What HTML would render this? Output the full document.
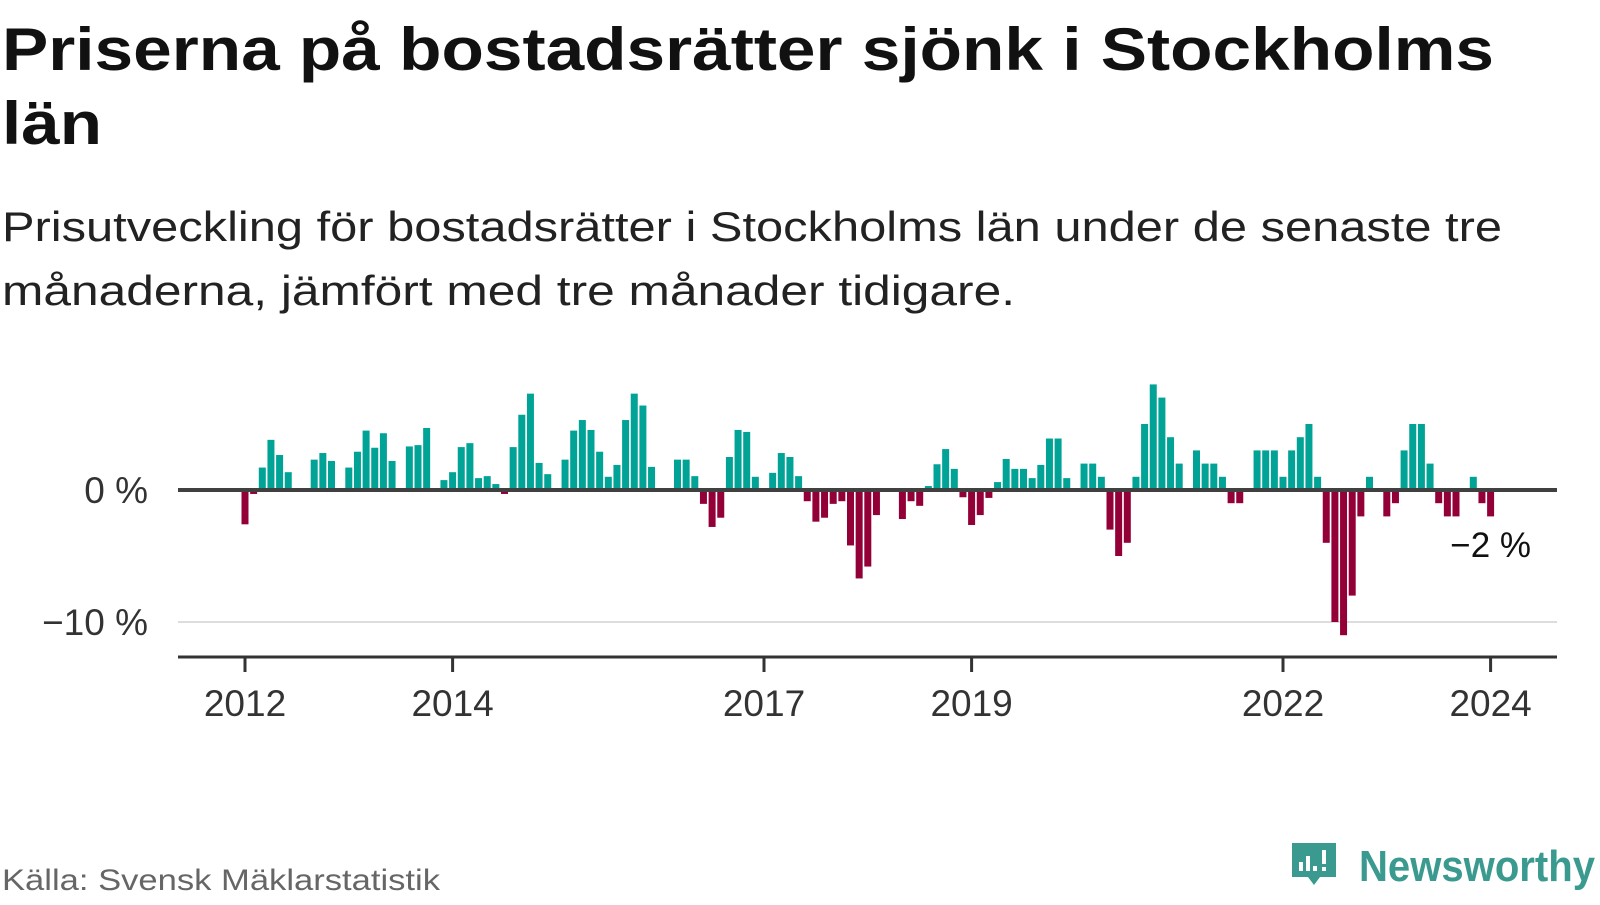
<!DOCTYPE html>
<html><head><meta charset="utf-8"><style>
html,body{margin:0;padding:0;background:#fff;}
body{width:1600px;height:900px;overflow:hidden;font-family:"Liberation Sans",sans-serif;}
svg text{font-family:"Liberation Sans",sans-serif;}
</style></head><body>
<svg id="chart" width="1600" height="900" viewBox="0 0 1600 900" xmlns="http://www.w3.org/2000/svg">
<text x="2" y="70" font-size="60" font-weight="bold" fill="#111" textLength="1492" lengthAdjust="spacingAndGlyphs">Priserna på bostadsrätter sjönk i Stockholms</text>
<text x="2" y="144" font-size="60" font-weight="bold" fill="#111" textLength="100" lengthAdjust="spacingAndGlyphs">län</text>
<text x="2" y="241" font-size="42" fill="#222" textLength="1500" lengthAdjust="spacingAndGlyphs">Prisutveckling för bostadsrätter i Stockholms län under de senaste tre</text>
<text x="2" y="305" font-size="42" fill="#222" textLength="1013" lengthAdjust="spacingAndGlyphs">månaderna, jämfört med tre månader tidigare.</text>
<g id="plot"></g>
<text x="2" y="890" font-size="30" fill="#666" textLength="438" lengthAdjust="spacingAndGlyphs">Källa: Svensk Mäklarstatistik</text>
<g>
<path d="M1292 843 h44 v34 h-16 l-6 8 l-6 -8 h-16 z" fill="#3a9a8f"/>
<rect x="1299" y="862" width="4" height="9" fill="#fff"/>
<rect x="1306" y="856" width="4" height="15" fill="#fff"/>
<rect x="1313" y="866" width="4" height="5" fill="#fff"/>
<rect x="1322" y="850" width="4" height="14" fill="#fff"/>
<rect x="1322" y="867" width="4" height="4" fill="#fff"/>
<text x="1359" y="881" font-size="44" font-weight="bold" fill="#3a9a8f" textLength="236" lengthAdjust="spacingAndGlyphs">Newsworthy</text>
</g>
</svg>
<script>
const startYear = 2012;
const values = [
-2.6,-0.3,1.7,3.8,2.65,1.35,0,0.1,2.3,2.8,2.2,0.1,
1.7,2.9,4.5,3.2,4.3,2.2,0.1,3.3,3.4,4.7,0.15,0.75,
1.35,3.25,3.55,0.9,1.05,0.45,-0.3,3.25,5.7,7.3,2.05,1.2,
0,2.3,4.5,5.3,4.55,2.9,1.0,1.9,5.3,7.3,6.4,1.75,
0.15,0,2.3,2.3,1.05,-1.05,-2.8,-2.1,2.5,4.55,4.4,1.0,
0,1.3,2.8,2.5,1.05,-0.85,-2.4,-2.1,-1.05,-0.85,-4.2,-6.7,
-5.8,-1.9,0,0,-2.2,-0.85,-1.2,0.3,1.95,3.1,1.6,-0.55,
-2.65,-1.9,-0.6,0.6,2.35,1.6,1.6,0.9,1.9,3.9,3.9,0.9,
0,2,2,1,-3,-5,-4,1,5,8,7,4,
2,0,3,2,2,1,-1,-1,0,3,3,3,
1,3,4,5,1,-4,-10,-11,-8,-2,1,0,
-2,-1,3,5,5,2,-1,-2,-2,0,1,-1,
-2
];
const yTicks = [0,-10];
const yTickLabels = ["0 %","\u221210 %"];
const xTicks = [2012,2014,2017,2019,2022,2024];
const lastLabel = "\u22122 %";

const NS="http://www.w3.org/2000/svg";
const plot=document.getElementById('plot');
function x(t){return 245+(t-2012)*103.8;}
function y(v){return 490-v*13.2;}
function mk(tag,attrs){const e=document.createElementNS(NS,tag);for(const k in attrs)e.setAttribute(k,attrs[k]);plot.appendChild(e);return e;}

yTicks.forEach((t,i)=>{
  if(t!==0){
    const g=mk('line',{x1:178,x2:1557,y1:y(t),y2:y(t),stroke:'#ddd','stroke-width':2});
    
    
  }
  const l=mk('text',{x:148,y:y(t)+13,'font-size':37,fill:'#333','text-anchor':'end'});
  l.textContent=yTickLabels[i];
  
  
});

values.forEach((v,i)=>{
  if(v===0)return;
  const t=startYear+i/12;
  const top=v>0?y(v):y(0);
  const h=Math.abs(y(v)-y(0));
  const r=mk('rect',{x:x(t)-3.5,y:top,width:7,height:h,fill:v>0?'#00a396':'#930038'});
  
  
});

const zl=mk('line',{x1:178,x2:1557,y1:y(0),y2:y(0),stroke:'#404040','stroke-width':4});



const ax=mk('line',{x1:178,x2:1557,y1:657,y2:657,stroke:'#333','stroke-width':3});



xTicks.forEach(t=>{
  const tk=mk('line',{x1:x(t),x2:x(t),y1:657,y2:672,stroke:'#333','stroke-width':3});
  
  
  const l=mk('text',{x:x(t),y:716,'font-size':37,fill:'#333','text-anchor':'middle'});
  l.textContent=String(t);
  
  
});

const ll=mk('text',{x:1531,y:557,'font-size':35,fill:'#111','text-anchor':'end'});
ll.textContent=lastLabel;


</script>
</body></html>
